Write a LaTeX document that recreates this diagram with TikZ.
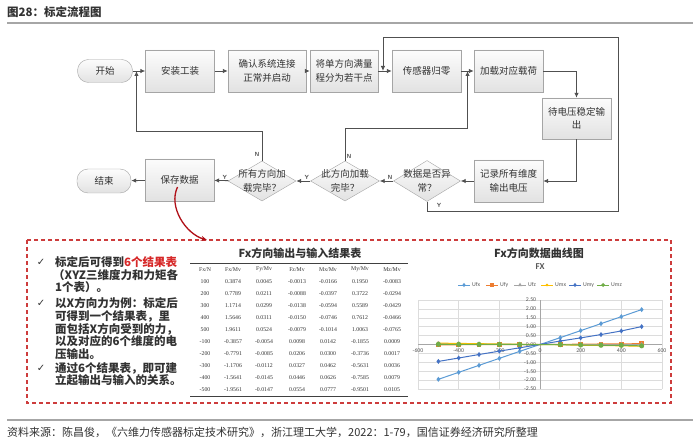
\documentclass[tikz,border=0pt]{standalone}
\usepackage{fontspec}
\setmainfont{Noto Sans CJK SC}
\newfontfamily\numfont{Liberation Serif}
\newfontfamily\chartfont{Carlito}
\newfontfamily\symfont{DejaVu Sans}
\usepackage{xcolor}
\definecolor{flowgray}{RGB}{80, 80, 80}
\definecolor{boxedge}{RGB}{165, 165, 165}
\definecolor{boxtop}{RGB}{252, 252, 252}
\definecolor{boxbot}{RGB}{226, 226, 226}
\definecolor{textdark}{RGB}{50, 50, 50}
\definecolor{notered}{RGB}{215, 40, 40}
\definecolor{dashred}{RGB}{205, 60, 60}
\definecolor{curvered}{RGB}{176, 16, 24}
\definecolor{rulegray}{RGB}{166, 166, 166}
\definecolor{xlblue}{RGB}{91, 155, 213}
\definecolor{xlorange}{RGB}{237, 125, 49}
\definecolor{xlgray}{RGB}{165, 165, 165}
\definecolor{xlgold}{RGB}{255, 192, 0}
\definecolor{xlnavy}{RGB}{68, 114, 196}
\definecolor{xlgreen}{RGB}{112, 173, 71}
\definecolor{gridgray}{RGB}{220, 220, 220}
\definecolor{tickgray}{RGB}{89, 89, 89}
\usetikzlibrary{arrows.meta, shapes.geometric, calc, plotmarks}

\begin{document}
\begin{tikzpicture}[x=1pt, y=-1pt, >={Latex[length=5pt, width=4.5pt]},
  flowtext/.style={font=\fontsize{9.5}{13.5}\selectfont, text=textdark, align=center},
  procbox/.style={rectangle, draw=boxedge, top color=boxtop, bottom color=boxbot,
    minimum width=69pt, minimum height=42pt, inner sep=1pt, flowtext},
  termbox/.style={procbox, rounded corners=11pt, minimum width=55pt, minimum height=23pt},
  decision/.style={diamond, draw=boxedge, top color=boxtop, bottom color=boxbot,
    minimum width=68pt, minimum height=41pt, inner sep=0pt},
  flowline/.style={->, draw=flowgray, line width=0.9pt},
  yn/.style={font=\sffamily\bfseries\fontsize{6}{6}\selectfont, text=flowgray, inner sep=1pt},
  bullettext/.style={font=\bfseries\fontsize{11.5}{12.9}\selectfont, text=textdark,
    align=left, anchor=north west, inner sep=0pt},
  checkmark/.style={font=\symfont\fontsize{10}{10}\selectfont, text=textdark, inner sep=0pt},
  tablenum/.style={font=\numfont\fontsize{5.8}{6}\selectfont, text=black!80, inner sep=0pt},
  charttick/.style={font=\chartfont\fontsize{5.8}{6}\selectfont, text=tickgray, inner sep=0pt},
  chartgrid/.style={draw=gridgray, line width=0.5pt},
  series/.style={line width=1pt, mark size=1.7pt, mark options={solid}}]

\useasboundingbox (0,0) rectangle (700,443);
\fill[white] (0,0) rectangle (700,443);

% === Encabezado y pie ===
\node[anchor=west, inner sep=0pt, font=\bfseries\fontsize{11.5}{12}\selectfont, text=textdark] (title) at (7,12.5) {图28：标定流程图};
\draw[rulegray, line width=2pt] (7,23) -- (693,23);
\draw[rulegray, line width=2pt] (7,420) -- (693,420);
\node[anchor=west, inner sep=0pt, font=\fontsize{11}{12}\selectfont, text=textdark] (source) at (7,432.5) {资料来源：陈昌俊，《六维力传感器标定技术研究》，浙江理工大学，2022：1-79，国信证券经济研究所整理};

% === Diagrama de flujo ===
\node[termbox] (start) at (105,71) {开始};
\node[procbox] (install) at (180,71) {安装工装};
\node[procbox, minimum width=78pt] (confirm) at (267,71) {确认系统连接\\正常并启动};
\node[procbox, minimum width=68pt] (split) at (344,71) {将单方向满量\\程分为若干点};
\node[procbox] (zero) at (426.5,71) {传感器归零};
\node[procbox] (load) at (508.5,71) {加载对应载荷};
\node[procbox, minimum height=41pt] (wait) at (576.5,118.5) {待电压稳定输\\出};
\node[procbox] (record) at (508.5,181) {记录所有维度\\输出电压};
\node[decision, minimum width=67pt, label={[flowtext]center:数据是否异\\常？}] (abnormal) at (427,181) {};
\node[decision, minimum width=69pt, minimum height=40pt, label={[flowtext]center:此方向加载\\完毕？}] (dirdone) at (345,181) {};
\node[decision, minimum height=40pt, label={[flowtext]center:所有方向加\\载完毕？}] (alldone) at (262,181) {};
\node[procbox] (save) at (179.5,180) {保存数据};
\node[termbox, minimum width=54pt, minimum height=24pt] (finish) at (104,181) {结束};

\coordinate (startin) at ($(start.east)!0.3!(install.west)$);
\coordinate (zeroin) at ($(split.east)!0.35!(zero.west)$);
\coordinate (loadin) at ($(zero.east)!0.5!(load.west)$);
\coordinate (loopse) at (618,211);
\coordinate (loopnw) at (zeroin |- 0,37);

\draw[flowline] (start) -- (install);
\draw[flowline] (install) -- (confirm);
\draw[flowline] (confirm) -- (split);
\draw[flowline] (split) -- (zero);
\draw[flowline] (zero) -- (load);
\draw[flowline] (load.east) -| (wait.north);
\draw[flowline] (wait.south) |- (record.east);
\draw[flowline] (record) -- (abnormal);
\draw[flowline] (abnormal) -- node[yn, above, pos=0.25] (n1) {N} (dirdone);
\draw[flowline] (dirdone) -- node[yn, above, pos=0.25] (y1) {Y} (alldone);
\draw[flowline] (alldone) -- node[yn, above, pos=0.25] (y2) {Y} (save);
\draw[flowline] (save) -- (finish);
% Y: volver a poner a cero
\draw[flowline] (abnormal.south) |- (loopse) |- (loopnw) -- (zeroin);
\node[yn] (y3) at (439,205) {Y};
% N: siguiente punto de carga
\draw[flowline] (dirdone.north) -- ++(0,-32) -| (loadin);
\node[yn] (n2) at (349,156) {N};
% N: siguiente direccion
\draw[flowline] (alldone.north) -- ++(0,-29) -| (startin);
\node[yn] (n3) at (257,154) {N};

% === Recuadro de resultados ===
\draw[dashred, line width=1.2pt, dash pattern=on 4pt off 3pt] (27,240) rectangle (671,403);
\coordinate (curvestart) at ($(save.center)+(-2,7)$);
\coordinate (curveend) at (207,240);
\draw[-{Stealth[length=6pt, width=5pt]}, curvered, line width=1.3pt] (curvestart) .. controls (168,207) and (186,234) .. (curveend);

% texto de la izquierda
\node[checkmark] (chk1) at (41,262) {✓};
\node[checkmark] (chk2) at (41,303) {✓};
\node[checkmark] (chk3) at (41,368) {✓};
\node[bullettext] (note1) at (55,256) {标定后可得到\textcolor{notered}{6个结果表}\\\hspace*{-2pt}（XYZ三维度力和力矩各\\1个表）。};
\node[bullettext] (note2) at (55,297) {以X方向力为例：标定后\\可得到一个结果表，里\\面包括X方向受到的力，\\以及对应的6个维度的电\\压输出。};
\node[bullettext] (note3) at (55,362) {通过6个结果表，即可建\\立起输出与输入的关系。};

% tabla
\node[font=\bfseries\fontsize{11}{12}\selectfont, text=textdark, inner sep=0pt] (tabtitle) at (300,253) {Fx方向输出与输入结果表};
\draw[black!75, line width=1pt] (190,263) -- (408,263);
\draw[black!75, line width=1pt] (190,396) -- (408,396);
\foreach \hx/\h [count=\c] in {205/{Fx/N}, 233/{Fx/Mv}, 264/{Fy/Mv}, 297/{Fz/Mv}, 328/{Mx/Mv}, 360/{My/Mv}, 392/{Mz/Mv}}
  \node[tablenum] (head\c) at (\hx,269.5) {\h};
\foreach \a/\b/\c/\d/\e/\f/\g [count=\r] in {
  100/0.3874/0.0045/-0.0013/-0.0166/0.1950/-0.0083,
  200/0.7789/0.0211/-0.0088/-0.0397/0.3722/-0.0294,
  300/1.1714/0.0299/-0.0138/-0.0594/0.5589/-0.0429,
  400/1.5646/0.0311/-0.0150/-0.0746/0.7612/-0.0466,
  500/1.9611/0.0524/-0.0079/-0.1014/1.0063/-0.0765,
  -100/-0.3857/-0.0054/0.0098/0.0142/-0.1855/0.0009,
  -200/-0.7791/-0.0085/0.0206/0.0300/-0.3736/0.0017,
  -300/-1.1706/-0.0112/0.0327/0.0462/-0.5631/0.0036,
  -400/-1.5641/-0.0145/0.0446/0.0626/-0.7585/0.0079,
  -500/-1.9561/-0.0147/0.0554/0.0777/-0.9501/0.0105} {
  \node[tablenum] (fx\r) at (205,270+12*\r) {\a};
  \node[tablenum] (ufx\r) at (233,270+12*\r) {\b};
  \node[tablenum] (ufy\r) at (264,270+12*\r) {\c};
  \node[tablenum] (ufz\r) at (297,270+12*\r) {\d};
  \node[tablenum] (umx\r) at (328,270+12*\r) {\e};
  \node[tablenum] (umy\r) at (360,270+12*\r) {\f};
  \node[tablenum] (umz\r) at (392,270+12*\r) {\g};
}

% grafico
\node[font=\bfseries\fontsize{11}{12}\selectfont, text=textdark, inner sep=0pt] (charttitle) at (539,253) {Fx方向数据曲线图};
\node[font=\chartfont\bfseries\fontsize{9}{10}\selectfont, text=tickgray, inner sep=0pt] (chartsub) at (540,267) {FX};
\foreach \lx/\lc/\lm/\lt in {458/xlblue/diamond*/Ufx, 486/xlorange/square*/Ufy, 514/xlgray/triangle*/Ufz,
    541/xlgold/x/Umx, 569/xlnavy/diamond*/Umy, 597/xlgreen/*/Umz} {
  \draw[\lc, line width=1pt] (\lx,285) -- ++(12,0);
  \draw[\lc, series, mark size=1.3pt] plot[mark=\lm] coordinates {(\lx+6,285)};
  \node[charttick, anchor=west] (leg\lt) at (\lx+14,285) {\lt};
}
\begin{scope}[shift={(540,344.5)}, x=0.2033pt, y=17.8pt]
  \foreach \v in {-2.5,-2,...,2.6} \draw[chartgrid] (-600,\v) -- (600,\v);
  \foreach \u in {-600,-400,...,600} \draw[chartgrid] (\u,-2.5) -- (\u,2.5);
  \draw[black!35, line width=0.6pt] (-600,0) -- (600,0);
  \draw[black!35, line width=0.6pt] (0,-2.5) -- (0,2.5);
  \foreach \v/\t [count=\k] in {2.5/2.50, 2/2.00, 1.5/1.50, 1/1.00, 0.5/0.50, 0/0.00,
      -0.5/-0.50, -1/-1.00, -1.5/-1.50, -2/-2.00, -2.5/-2.50}
    \node[charttick, anchor=east] (ytick\k) at (-18,\v) {\t};
  \foreach \u [count=\k] in {-600,-400,-200,0,200,400,600}
    \node[charttick, anchor=north] (xtick\k) at (\u,-0.2) {\u};
  % series
  \draw[xlblue, series] plot[mark=diamond*] coordinates {(-500,-1.9561) (-400,-1.5641) (-300,-1.1706) (-200,-0.7791) (-100,-0.3857) (100,0.3874) (200,0.7789) (300,1.1714) (400,1.5646) (500,1.9611)};
  \draw[xlorange, series] plot[mark=square*] coordinates {(-500,-0.0147) (-400,-0.0145) (-300,-0.0112) (-200,-0.0085) (-100,-0.0054) (100,0.0045) (200,0.0211) (300,0.0299) (400,0.0311) (500,0.0524)};
  \draw[xlgray, series] plot[mark=triangle*] coordinates {(-500,0.0554) (-400,0.0446) (-300,0.0327) (-200,0.0206) (-100,0.0098) (100,-0.0013) (200,-0.0088) (300,-0.0138) (400,-0.0150) (500,-0.0079)};
  \draw[xlgold, series] plot[mark=x] coordinates {(-500,0.0777) (-400,0.0626) (-300,0.0462) (-200,0.0300) (-100,0.0142) (100,-0.0166) (200,-0.0397) (300,-0.0594) (400,-0.0746) (500,-0.1014)};
  \draw[xlnavy, series] plot[mark=diamond*] coordinates {(-500,-0.9501) (-400,-0.7585) (-300,-0.5631) (-200,-0.3736) (-100,-0.1855) (100,0.1950) (200,0.3722) (300,0.5589) (400,0.7612) (500,1.0063)};
  \draw[xlgreen, series, mark size=2pt] plot[mark=*] coordinates {(-500,0.0105) (-400,0.0079) (-300,0.0036) (-200,0.0017) (-100,0.0009) (100,-0.0083) (200,-0.0294) (300,-0.0429) (400,-0.0466) (500,-0.0765)};
\end{scope}

\end{tikzpicture}
\end{document}
